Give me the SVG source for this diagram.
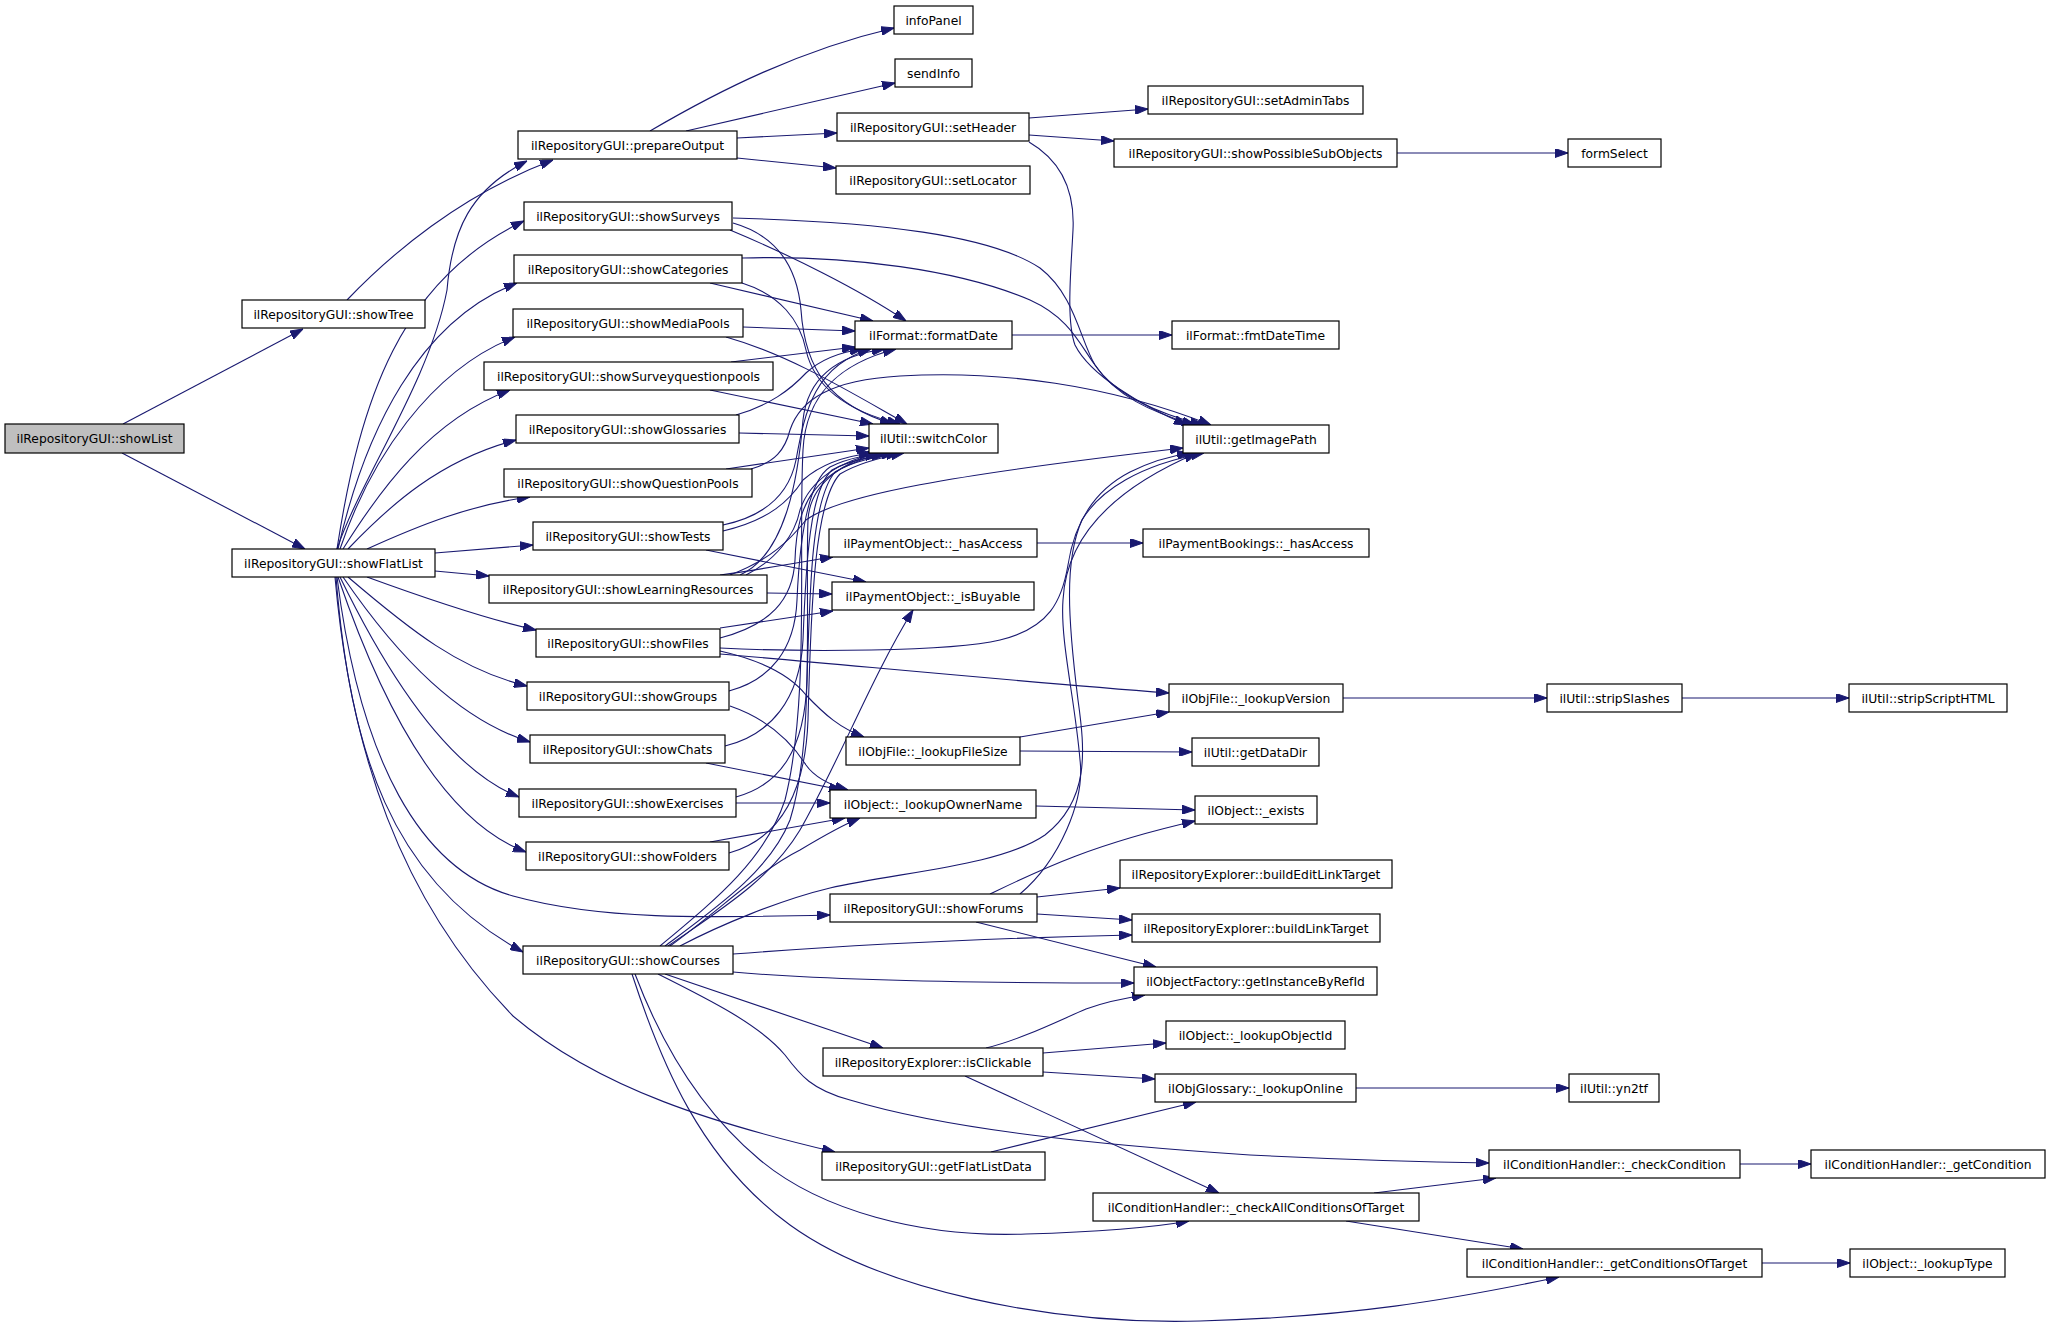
<svg xmlns="http://www.w3.org/2000/svg" width="2051" height="1328" viewBox="0 0 2051 1328">
<style>
.node rect{fill:#ffffff;stroke:#000000;stroke-width:1.2}
.node.root rect{fill:#bfbfbf}
.node text{font-family:"DejaVu Sans","Liberation Sans",sans-serif;font-size:12.3px;fill:#000000;text-anchor:middle}
.edge path{fill:none;stroke:#191970;stroke-width:1.1;marker-end:url(#arr)}
</style>
<defs>
<marker id="arr" viewBox="0 0 13 9" refX="13" refY="4.5" markerWidth="13" markerHeight="9" markerUnits="userSpaceOnUse" orient="auto">
<path d="M0,0 L13,4.5 L0,9 z" fill="#191970" stroke="#191970"/>
</marker>
</defs>
<rect width="2051" height="1328" fill="#ffffff"/>
<g id="connectors" class="edge">
<path d="M123,424 L303,329"/>
<path d="M122,453 L305,549"/>
<path d="M347,300 C390,255 460,195 553,160"/>
<path d="M337,549 C360,480 430,380 447,290 C452,230 470,190 527,161"/>
<path d="M650,131 C720,90 800,50 894,28"/>
<path d="M686,131 L895,83"/>
<path d="M737,138 L837,133"/>
<path d="M737,158 L836,168"/>
<path d="M1029,118 L1148,109"/>
<path d="M1029,135 L1114,141"/>
<path d="M1029,142 C1060,160 1075,190 1073,230 C1071,270 1066,320 1075,345 C1090,375 1140,405 1187,425"/>
<path d="M1397,153 L1568,153"/>
<path d="M1012,335 L1172,335"/>
<path d="M730,230 C790,255 860,290 906,321"/>
<path d="M733,223 C775,235 797,265 801,310 C805,370 830,405 893,424"/>
<path d="M733,218 C880,222 990,235 1040,268 C1075,295 1080,340 1095,365 C1115,395 1150,412 1195,425"/>
<path d="M710,283 L873,321"/>
<path d="M742,283 C780,295 800,320 806,350 C815,390 850,412 900,424"/>
<path d="M742,258 C850,255 960,270 1030,300 C1070,318 1080,345 1095,365 C1115,395 1160,414 1203,425"/>
<path d="M743,327 L855,331"/>
<path d="M726,337 C790,355 850,392 907,424"/>
<path d="M731,362 L855,347"/>
<path d="M710,390 L873,424"/>
<path d="M736,415 C770,405 790,390 806,373 C820,360 840,352 863,349"/>
<path d="M739,433 L869,436"/>
<path d="M726,469 L869,448"/>
<path d="M751,469 C775,462 785,450 790,430 C800,400 830,380 900,376 C1000,370 1110,385 1211,425"/>
<path d="M723,525 C770,515 790,490 796,460 C805,410 815,365 871,349"/>
<path d="M723,531 C770,520 790,500 803,480 C820,465 845,456 872,453"/>
<path d="M706,550 L866,582"/>
<path d="M720,575 C770,568 800,562 833,557"/>
<path d="M767,593 L832,594"/>
<path d="M746,575 C776,560 795,535 800,510 C810,480 840,460 880,453"/>
<path d="M730,575 C770,560 790,540 806,520 C840,495 950,475 1183,448"/>
<path d="M740,575 C785,555 798,480 803,420 C808,375 840,355 885,349"/>
<path d="M720,628 L833,611"/>
<path d="M720,638 C770,625 793,600 795,560 C797,500 815,470 884,453"/>
<path d="M720,648 C800,652 950,652 1000,640 C1050,628 1062,600 1068,565 C1075,520 1095,490 1130,472 C1150,462 1170,456 1190,453"/>
<path d="M720,654 C850,665 1000,680 1169,693"/>
<path d="M720,651 C760,660 790,675 806,695 C825,715 840,728 864,737"/>
<path d="M729,691 C770,680 795,650 797,600 C800,530 810,480 830,467 C850,457 870,455 889,453"/>
<path d="M730,706 C765,718 790,740 806,765 C815,778 830,785 848,790"/>
<path d="M725,746 C770,735 800,700 803,640 C806,560 810,490 832,470 C850,460 875,456 894,453"/>
<path d="M706,763 L842,790"/>
<path d="M736,797 C780,785 805,750 807,680 C810,580 812,500 835,472 C855,460 882,456 899,453"/>
<path d="M736,803 L830,803"/>
<path d="M729,853 C775,840 805,800 808,720 C811,600 815,500 840,474 C860,462 888,456 904,453"/>
<path d="M710,842 L845,818"/>
<path d="M337,549 C360,400 400,280 524,221"/>
<path d="M338,549 C365,430 420,320 517,283"/>
<path d="M340,549 C370,460 430,370 515,337"/>
<path d="M343,549 C380,490 430,420 510,390"/>
<path d="M348,549 C390,505 440,460 516,440"/>
<path d="M367,549 C420,525 470,505 530,497"/>
<path d="M435,553 L533,545"/>
<path d="M435,571 L489,576"/>
<path d="M367,577 C430,600 490,620 536,630"/>
<path d="M348,577 C410,630 460,670 527,686"/>
<path d="M343,577 C400,660 460,720 530,742"/>
<path d="M340,577 C390,680 450,770 519,797"/>
<path d="M338,577 C380,700 440,820 526,852"/>
<path d="M336,577 C350,750 390,880 523,952"/>
<path d="M337,577 C360,760 420,870 513,896 C600,920 700,918 830,915"/>
<path d="M335,577 C350,750 400,900 513,1016 C600,1090 720,1125 835,1152"/>
<path d="M1037,897 L1120,888"/>
<path d="M1037,914 L1132,920"/>
<path d="M976,922 L1156,967"/>
<path d="M990,894 C1040,870 1090,845 1195,821"/>
<path d="M1020,894 C1060,860 1085,800 1080,760 C1075,700 1060,640 1063,600 C1066,540 1110,490 1197,453"/>
<path d="M680,946 C720,925 780,900 830,888 C900,872 1000,866 1045,835 C1090,800 1085,750 1078,700 C1068,620 1064,560 1082,520 C1100,490 1140,465 1204,453"/>
<path d="M665,946 C720,905 770,870 790,820 C815,740 805,600 808,520 C810,480 850,460 878,453"/>
<path d="M660,946 C715,900 765,860 785,800 C810,700 798,550 803,450 C806,390 845,362 896,349"/>
<path d="M670,946 C720,910 760,870 800,850 C820,838 840,826 860,818"/>
<path d="M668,946 C720,910 770,880 800,830 C840,760 870,680 913,610"/>
<path d="M733,954 C850,945 1000,938 1132,935"/>
<path d="M733,972 C800,978 900,983 1134,983"/>
<path d="M665,974 L883,1048"/>
<path d="M658,974 C710,1000 760,1025 785,1055 C800,1075 812,1090 850,1100 C950,1130 1100,1145 1250,1155 C1350,1160 1420,1162 1489,1163"/>
<path d="M635,974 C660,1040 700,1110 760,1160 C820,1210 920,1238 1026,1234 C1100,1232 1150,1228 1189,1221"/>
<path d="M632,974 C660,1060 700,1160 790,1225 C880,1290 1050,1325 1200,1321 C1350,1317 1450,1300 1559,1277"/>
<path d="M986,1048 C1020,1040 1060,1020 1086,1009 C1105,1002 1125,998 1145,995"/>
<path d="M1043,1053 L1166,1043"/>
<path d="M1043,1072 L1155,1079"/>
<path d="M965,1076 L1219,1193"/>
<path d="M991,1152 L1196,1102"/>
<path d="M1356,1088 L1569,1088"/>
<path d="M1374,1193 L1496,1178"/>
<path d="M1346,1221 L1523,1249"/>
<path d="M1740,1164 L1811,1164"/>
<path d="M1762,1263 L1850,1263"/>
<path d="M1037,543 L1143,543"/>
<path d="M1343,698 L1547,698"/>
<path d="M1682,698 L1849,698"/>
<path d="M1020,737 L1169,712"/>
<path d="M1020,751 L1192,752"/>
<path d="M1036,806 L1195,810"/>
</g>
<g id="showList" class="node root"><rect x="5" y="424" width="179" height="29"/><text x="94.5" y="442.5">ilRepositoryGUI::showList</text></g>
<g id="showTree" class="node"><rect x="242" y="300" width="183" height="28"/><text x="333.5" y="318.5">ilRepositoryGUI::showTree</text></g>
<g id="showFlatList" class="node"><rect x="232" y="549" width="203" height="28"/><text x="333.5" y="567.5">ilRepositoryGUI::showFlatList</text></g>
<g id="prepareOutput" class="node"><rect x="518" y="131" width="219" height="28"/><text x="627.5" y="149.5">ilRepositoryGUI::prepareOutput</text></g>
<g id="infoPanel" class="node"><rect x="894" y="6" width="79" height="28"/><text x="933.5" y="24.5">infoPanel</text></g>
<g id="sendInfo" class="node"><rect x="895" y="59" width="77" height="28"/><text x="933.5" y="77.5">sendInfo</text></g>
<g id="setHeader" class="node"><rect x="837" y="113" width="192" height="28"/><text x="933" y="131.5">ilRepositoryGUI::setHeader</text></g>
<g id="setLocator" class="node"><rect x="836" y="166" width="194" height="28"/><text x="933" y="184.5">ilRepositoryGUI::setLocator</text></g>
<g id="setAdminTabs" class="node"><rect x="1148" y="86" width="215" height="28"/><text x="1255.5" y="104.5">ilRepositoryGUI::setAdminTabs</text></g>
<g id="showPossibleSubObjects" class="node"><rect x="1114" y="139" width="283" height="28"/><text x="1255.5" y="157.5">ilRepositoryGUI::showPossibleSubObjects</text></g>
<g id="formSelect" class="node"><rect x="1568" y="139" width="93" height="28"/><text x="1614.5" y="157.5">formSelect</text></g>
<g id="showSurveys" class="node"><rect x="524" y="202" width="208" height="28"/><text x="628" y="220.5">ilRepositoryGUI::showSurveys</text></g>
<g id="showCategories" class="node"><rect x="514" y="255" width="228" height="28"/><text x="628" y="273.5">ilRepositoryGUI::showCategories</text></g>
<g id="showMediaPools" class="node"><rect x="513" y="309" width="230" height="28"/><text x="628" y="327.5">ilRepositoryGUI::showMediaPools</text></g>
<g id="showSurveyquestionpools" class="node"><rect x="484" y="362" width="289" height="28"/><text x="628.5" y="380.5">ilRepositoryGUI::showSurveyquestionpools</text></g>
<g id="showGlossaries" class="node"><rect x="516" y="415" width="223" height="28"/><text x="627.5" y="433.5">ilRepositoryGUI::showGlossaries</text></g>
<g id="showQuestionPools" class="node"><rect x="504" y="469" width="248" height="28"/><text x="628" y="487.5">ilRepositoryGUI::showQuestionPools</text></g>
<g id="showTests" class="node"><rect x="533" y="522" width="190" height="28"/><text x="628" y="540.5">ilRepositoryGUI::showTests</text></g>
<g id="showLearningResources" class="node"><rect x="489" y="575" width="278" height="28"/><text x="628" y="593.5">ilRepositoryGUI::showLearningResources</text></g>
<g id="showFiles" class="node"><rect x="536" y="629" width="184" height="28"/><text x="628" y="647.5">ilRepositoryGUI::showFiles</text></g>
<g id="showGroups" class="node"><rect x="527" y="682" width="202" height="28"/><text x="628" y="700.5">ilRepositoryGUI::showGroups</text></g>
<g id="showChats" class="node"><rect x="530" y="735" width="195" height="28"/><text x="627.5" y="753.5">ilRepositoryGUI::showChats</text></g>
<g id="showExercises" class="node"><rect x="519" y="789" width="217" height="28"/><text x="627.5" y="807.5">ilRepositoryGUI::showExercises</text></g>
<g id="showFolders" class="node"><rect x="526" y="842" width="203" height="28"/><text x="627.5" y="860.5">ilRepositoryGUI::showFolders</text></g>
<g id="showForums" class="node"><rect x="830" y="894" width="207" height="28"/><text x="933.5" y="912.5">ilRepositoryGUI::showForums</text></g>
<g id="showCourses" class="node"><rect x="523" y="946" width="210" height="28"/><text x="628" y="964.5">ilRepositoryGUI::showCourses</text></g>
<g id="formatDate" class="node"><rect x="855" y="321" width="157" height="28"/><text x="933.5" y="339.5">ilFormat::formatDate</text></g>
<g id="fmtDateTime" class="node"><rect x="1172" y="321" width="167" height="28"/><text x="1255.5" y="339.5">ilFormat::fmtDateTime</text></g>
<g id="switchColor" class="node"><rect x="869" y="424" width="129" height="29"/><text x="933.5" y="443">ilUtil::switchColor</text></g>
<g id="getImagePath" class="node"><rect x="1183" y="425" width="146" height="28"/><text x="1256" y="443.5">ilUtil::getImagePath</text></g>
<g id="paymentObjectHasAccess" class="node"><rect x="829" y="529" width="208" height="28"/><text x="933" y="547.5">ilPaymentObject::_hasAccess</text></g>
<g id="paymentBookingsHasAccess" class="node"><rect x="1143" y="529" width="226" height="28"/><text x="1256" y="547.5">ilPaymentBookings::_hasAccess</text></g>
<g id="isBuyable" class="node"><rect x="832" y="582" width="202" height="28"/><text x="933" y="600.5">ilPaymentObject::_isBuyable</text></g>
<g id="lookupVersion" class="node"><rect x="1169" y="684" width="174" height="28"/><text x="1256" y="702.5">ilObjFile::_lookupVersion</text></g>
<g id="stripSlashes" class="node"><rect x="1547" y="684" width="135" height="28"/><text x="1614.5" y="702.5">ilUtil::stripSlashes</text></g>
<g id="stripScriptHTML" class="node"><rect x="1849" y="684" width="158" height="28"/><text x="1928" y="702.5">ilUtil::stripScriptHTML</text></g>
<g id="lookupFileSize" class="node"><rect x="846" y="737" width="174" height="28"/><text x="933" y="755.5">ilObjFile::_lookupFileSize</text></g>
<g id="getDataDir" class="node"><rect x="1192" y="738" width="127" height="28"/><text x="1255.5" y="756.5">ilUtil::getDataDir</text></g>
<g id="lookupOwnerName" class="node"><rect x="830" y="790" width="206" height="28"/><text x="933" y="808.5">ilObject::_lookupOwnerName</text></g>
<g id="exists" class="node"><rect x="1195" y="796" width="122" height="28"/><text x="1256" y="814.5">ilObject::_exists</text></g>
<g id="buildEditLinkTarget" class="node"><rect x="1120" y="860" width="272" height="28"/><text x="1256" y="878.5">ilRepositoryExplorer::buildEditLinkTarget</text></g>
<g id="buildLinkTarget" class="node"><rect x="1132" y="914" width="248" height="28"/><text x="1256" y="932.5">ilRepositoryExplorer::buildLinkTarget</text></g>
<g id="getInstanceByRefId" class="node"><rect x="1134" y="967" width="243" height="28"/><text x="1255.5" y="985.5">ilObjectFactory::getInstanceByRefId</text></g>
<g id="isClickable" class="node"><rect x="823" y="1048" width="220" height="28"/><text x="933" y="1066.5">ilRepositoryExplorer::isClickable</text></g>
<g id="lookupObjectId" class="node"><rect x="1166" y="1021" width="179" height="28"/><text x="1255.5" y="1039.5">ilObject::_lookupObjectId</text></g>
<g id="lookupOnline" class="node"><rect x="1155" y="1074" width="201" height="28"/><text x="1255.5" y="1092.5">ilObjGlossary::_lookupOnline</text></g>
<g id="yn2tf" class="node"><rect x="1569" y="1074" width="90" height="28"/><text x="1614" y="1092.5">ilUtil::yn2tf</text></g>
<g id="getFlatListData" class="node"><rect x="822" y="1152" width="223" height="28"/><text x="933.5" y="1170.5">ilRepositoryGUI::getFlatListData</text></g>
<g id="checkAllConditionsOfTarget" class="node"><rect x="1093" y="1193" width="326" height="28"/><text x="1256" y="1211.5">ilConditionHandler::_checkAllConditionsOfTarget</text></g>
<g id="checkCondition" class="node"><rect x="1489" y="1150" width="251" height="28"/><text x="1614.5" y="1168.5">ilConditionHandler::_checkCondition</text></g>
<g id="getCondition" class="node"><rect x="1811" y="1150" width="234" height="28"/><text x="1928" y="1168.5">ilConditionHandler::_getCondition</text></g>
<g id="getConditionsOfTarget" class="node"><rect x="1467" y="1249" width="295" height="28"/><text x="1614.5" y="1267.5">ilConditionHandler::_getConditionsOfTarget</text></g>
<g id="lookupType" class="node"><rect x="1850" y="1249" width="155" height="28"/><text x="1927.5" y="1267.5">ilObject::_lookupType</text></g>
</svg>
